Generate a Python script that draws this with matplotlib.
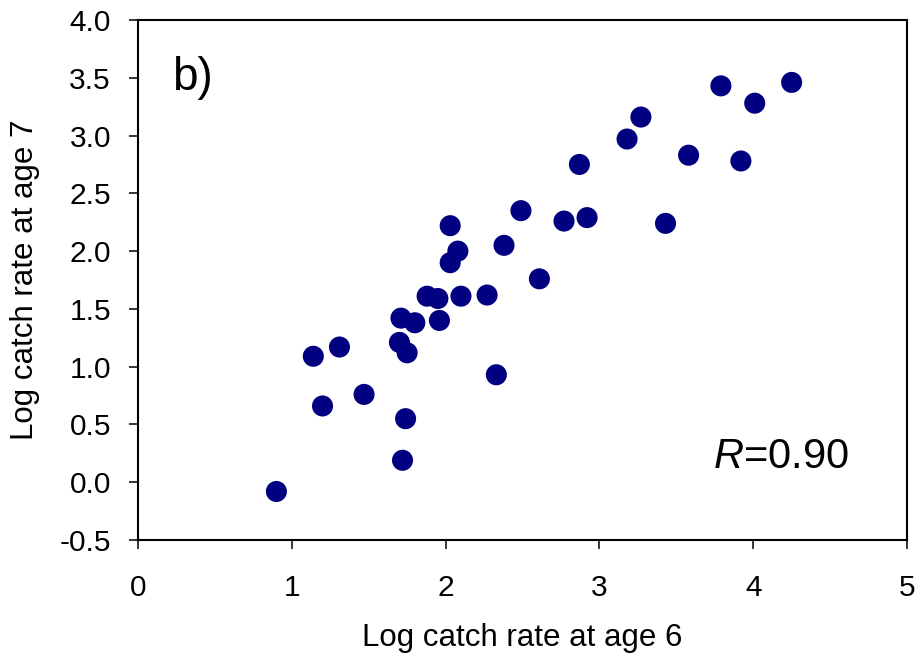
import matplotlib
matplotlib.use("Agg")
import matplotlib.pyplot as plt
import numpy as np

# log catch rates
age6 = [0.90, 1.14, 1.20, 1.31, 1.47, 1.70, 1.71, 1.72, 1.74, 1.75,
        1.80, 1.88, 1.95, 1.96, 2.03, 2.03, 2.08, 2.10, 2.27, 2.33,
        2.38, 2.49, 2.61, 2.77, 2.87, 2.92, 3.18, 3.27, 3.43, 3.58,
        3.79, 3.92, 4.01, 4.25]
age7 = [-0.08, 1.09, 0.66, 1.17, 0.76, 1.21, 1.42, 0.19, 0.55, 1.12,
        1.38, 1.61, 1.59, 1.40, 2.22, 1.90, 2.00, 1.61, 1.62, 0.93,
        2.05, 2.35, 1.76, 2.26, 2.75, 2.29, 2.97, 3.16, 2.24, 2.83,
        3.43, 2.78, 3.28, 3.46]

xticks = [0, 1, 2, 3, 4, 5]
yticks = [-0.5, 0.0, 0.5, 1.0, 1.5, 2.0, 2.5, 3.0, 3.5, 4.0]

plt.rcParams['font.family'] = ['Liberation Sans', 'DejaVu Sans']
plt.rcParams['mathtext.fontset'] = 'custom'
plt.rcParams['mathtext.it'] = 'Liberation Sans:italic'
plt.rcParams['mathtext.rm'] = 'Liberation Sans'

fig = plt.figure(figsize=(9.21, 6.6), dpi=100)
ax = fig.add_axes([0.1498, 0.1818, 0.835, 0.7879])

ax.scatter(age6, age7, s=230, color='#000080', edgecolors='none', zorder=3)

ax.set_xlim(0, 5)
ax.set_ylim(-0.5, 4.0)
ax.set_xticks(xticks)
ax.set_xticklabels([str(t) for t in xticks])
ax.set_yticks(yticks)
ax.set_yticklabels(['%.1f' % t for t in yticks])

for s in ax.spines.values():
    s.set_linewidth(1.5)
ax.tick_params(direction='out', length=6.5, width=1.1, labelsize=21.5)
ax.tick_params(axis='x', pad=18)
ax.tick_params(axis='y', pad=13)

ax.set_xlabel('Log catch rate at age 6', fontsize=22.5, labelpad=15)
ax.set_ylabel('Log catch rate at age 7', fontsize=22.5, labelpad=14)

ax.text(0.044, 0.865, 'b)', transform=ax.transAxes, fontsize=33)
ax.text(0.748, 0.138, r'$\it{R}$=0.90', transform=ax.transAxes, fontsize=30)

fig.savefig('out.png', dpi=100)
